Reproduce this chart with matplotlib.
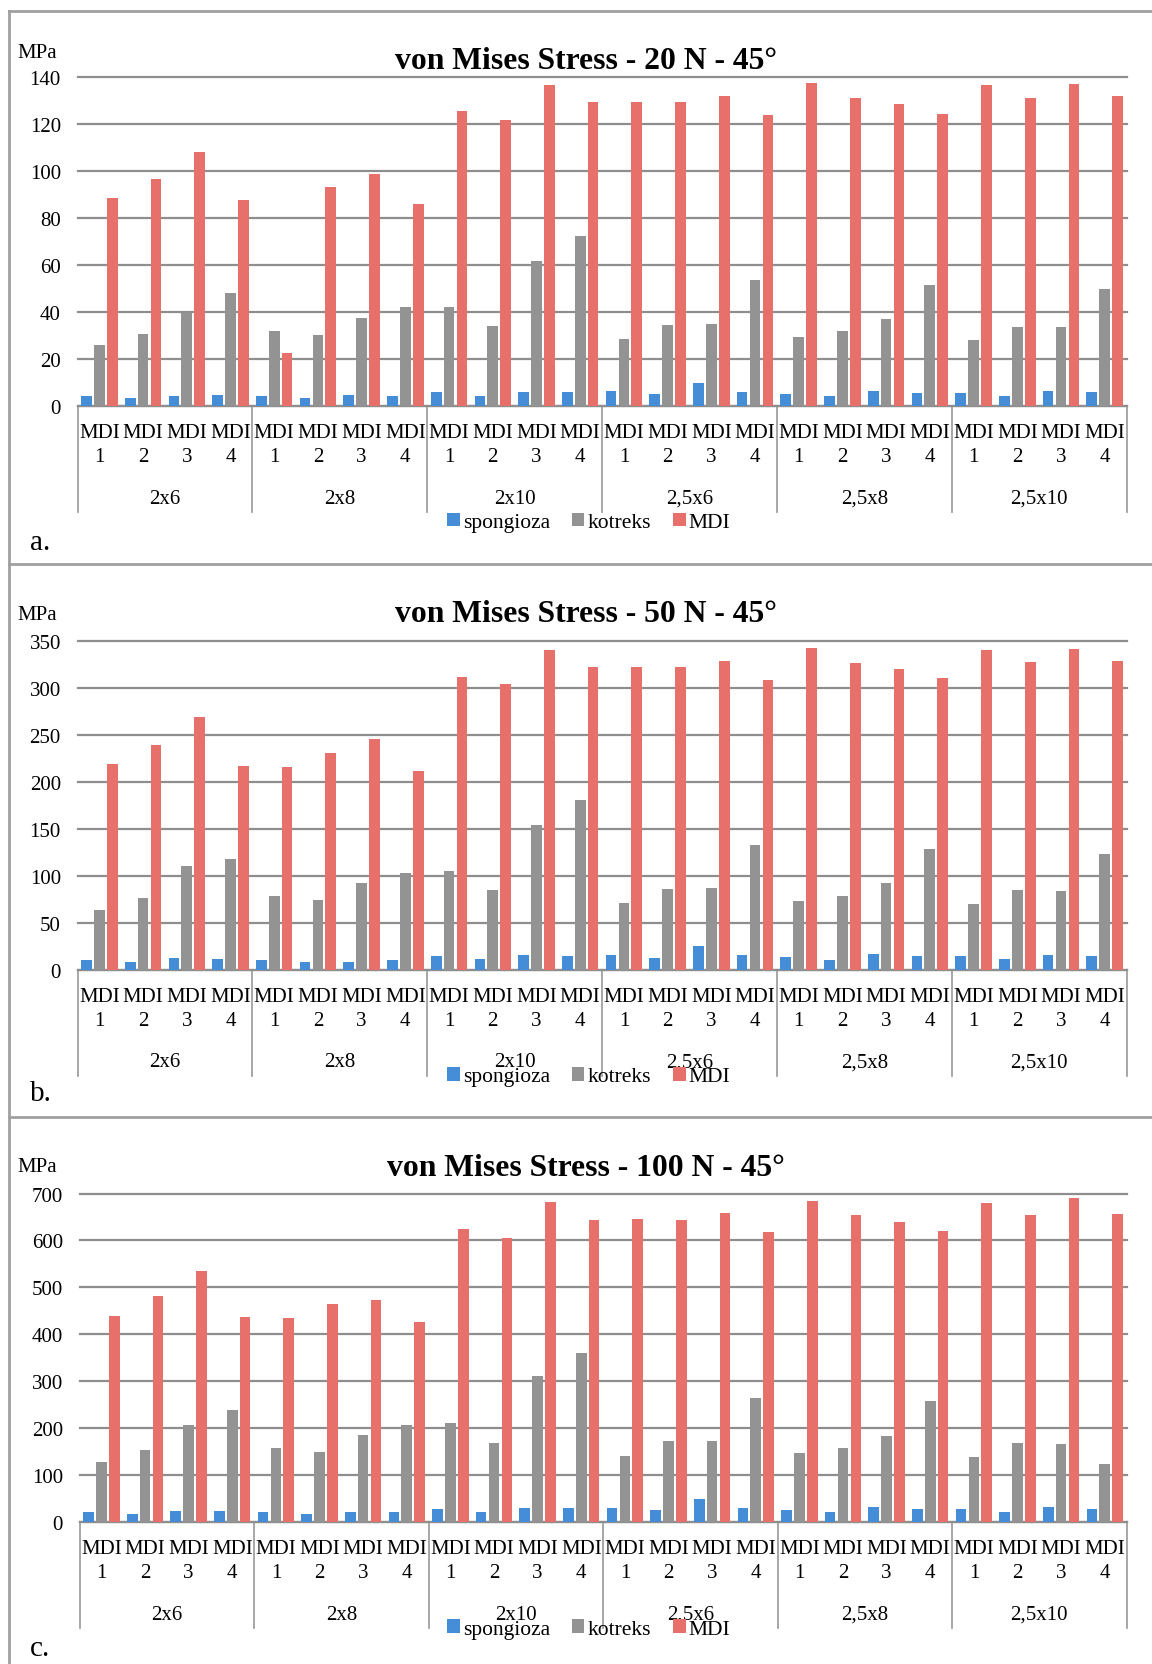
import matplotlib
matplotlib.use("Agg")
import matplotlib.pyplot as plt
import numpy as np
from matplotlib.patches import Patch
from matplotlib.lines import Line2D

plt.rcParams['font.family'] = ['Liberation Serif', 'DejaVu Serif']

W, H = 1152, 1665

groups = ["2x6", "2x8", "2x10", "2,5x6", "2,5x8", "2,5x10"]
implants = ["MDI", "MDI", "MDI", "MDI"]
implant_nums = ["1", "2", "3", "4"]
series_names = ["spongioza", "kotreks", "MDI"]
colors = ["#468DD7", "#939393", "#E7706A"]

# 20 N
spong_20 = [4.2, 3.4, 4.2, 4.7, 4.2, 3.4, 4.7, 4.2, 5.9, 4.2, 5.9, 5.9,
            6.4, 5.1, 9.8, 5.9, 5.1, 4.2, 6.4, 5.5, 5.5, 4.2, 6.4, 5.9]
kotreks_20 = [25.7, 30.7, 39.3, 47.8, 31.7, 30.1, 37.5, 41.9, 42.0, 33.9, 61.7, 72.3,
              28.3, 34.5, 34.8, 53.3, 29.3, 31.7, 36.8, 51.3, 27.9, 33.7, 33.4, 49.5]
mdi_20 = [88.5, 96.6, 107.8, 87.7, 22.3, 93.2, 98.7, 85.6, 125.2, 121.4, 136.4, 129.0,
          129.3, 129.0, 131.8, 123.6, 137.2, 130.8, 128.3, 124.2, 136.5, 131.0, 136.9, 131.8]

# 50 N
spong_50 = [10.0, 7.8, 12.1, 11.0, 10.0, 7.8, 7.8, 10.0, 14.3, 11.0, 15.3, 14.3,
            15.3, 12.1, 24.9, 15.3, 13.2, 10.0, 16.4, 14.3, 14.3, 11.0, 15.3, 14.3]
kotreks_50 = [63.4, 75.9, 110.8, 118.3, 78.8, 73.8, 92.3, 102.6, 105.5, 84.8, 154.0, 180.7,
              70.6, 85.5, 87.0, 132.6, 73.1, 78.8, 91.9, 128.7, 69.9, 84.5, 83.4, 123.3]
mdi_50 = [219.2, 239.5, 269.1, 217.0, 215.6, 230.6, 246.3, 212.0, 312.5, 304.0, 341.1, 322.5,
          322.9, 322.5, 329.3, 309.0, 342.8, 327.2, 320.4, 310.8, 341.1, 327.9, 342.1, 329.3]

# 100 N
spong_100 = [20.6, 16.4, 22.8, 22.8, 20.6, 16.4, 20.6, 20.6, 27.0, 20.6, 29.2, 29.2,
             29.2, 24.9, 48.4, 29.2, 24.9, 20.6, 31.3, 27.0, 27.0, 20.6, 31.3, 27.0]
kotreks_100 = [127.3, 152.2, 207.0, 237.6, 157.9, 147.9, 184.2, 205.5, 209.8, 168.6, 310.8, 359.9,
               140.1, 171.4, 172.8, 264.6, 145.8, 157.2, 182.8, 256.8, 138.7, 167.9, 165.0, 122.3]
mdi_100 = [438.8, 481.5, 534.9, 436.7, 433.9, 463.7, 472.3, 425.3, 625.2, 606.0, 681.4, 644.4,
           645.8, 644.4, 657.9, 617.4, 684.9, 654.3, 640.1, 619.5, 680.7, 654.3, 690.6, 657.2]


def draw_panel(fig, rect, series, ymax, step, title, letter, title_y, mpa_y, letter_y, legend_y):
    ax = fig.add_axes(rect)
    n = len(series[0])
    x = np.arange(n)
    offsets = [-0.295, 0, 0.295]
    for vals, off, c in zip(series, offsets, colors):
        ax.bar(x + off, vals, width=0.245, color=c, zorder=3)

    ax.set_xlim(-0.5, n - 0.5)
    ax.set_ylim(0, ymax)
    ax.set_yticks(np.arange(0, ymax + 1, step))
    ax.yaxis.grid(True, color="#8E8E8E", lw=1.6)
    for gl in ax.get_ygridlines():
        gl.set_clip_on(False)
    ax.set_axisbelow(True)
    for s in ["top", "right", "left"]:
        ax.spines[s].set_visible(False)
    ax.spines["bottom"].set_color("#8E8E8E")
    ax.spines["bottom"].set_linewidth(1.6)
    ax.set_xticks([])
    ax.tick_params(axis="y", length=0, pad=12, labelsize=15)

    ax_h = rect[3] * H
    # category labels (two levels)
    for i in range(n):
        ax.annotate(implants[i % 4], xy=(i, 0), xycoords=("data", "axes fraction"),
                    xytext=(0, -26.5), textcoords="offset pixels",
                    ha="center", va="center", fontsize=15, annotation_clip=False)
        ax.annotate(implant_nums[i % 4], xy=(i, 0), xycoords=("data", "axes fraction"),
                    xytext=(0, -51), textcoords="offset pixels",
                    ha="center", va="center", fontsize=15, annotation_clip=False)
    for g, name in enumerate(groups):
        ax.annotate(name, xy=(g * 4 + 1.5, 0), xycoords=("data", "axes fraction"),
                    xytext=(0, -92.4), textcoords="offset pixels",
                    ha="center", va="center", fontsize=15, annotation_clip=False)
    for b in np.arange(-0.5, n, 4):
        ax.plot([b, b], [0, -106 / ax_h], transform=ax.get_xaxis_transform(),
                color="#A0A0A0", lw=1.3, clip_on=False)

    fig.text(0.5087, title_y, title, ha="center", va="center", fontsize=22.8, fontweight="bold")
    fig.text(17 / W, mpa_y, "MPa", ha="left", va="center", fontsize=15)
    fig.text(30 / W, letter_y, letter, ha="left", va="center", fontsize=21)

    handles = [Patch(facecolor=c) for c in colors]
    fig.legend(handles, series_names, loc="center", bbox_to_anchor=(0.511, legend_y),
               bbox_transform=fig.transFigure, ncol=3, frameon=False, fontsize=15.5,
               handlelength=0.6, handleheight=0.6, handletextpad=0.15, columnspacing=1.0,
               borderpad=0, borderaxespad=0)
    return ax


fig = plt.figure(figsize=(W / 100, H / 100), dpi=100)

draw_panel(fig, [0.0673, 0.7557, 0.9106, 0.1977], [spong_20, kotreks_20, mdi_20], 140, 20,
           "von Mises Stress - 20 N - 45°", "a.", 1 - 61.5 / H, 1 - 53 / H, 1 - 543 / H, 0.6856)
draw_panel(fig, [0.0673, 0.4171, 0.9106, 0.1971], [spong_50, kotreks_50, mdi_50], 350, 50,
           "von Mises Stress - 50 N - 45°", "b.", 1 - 615 / H, 1 - 616 / H, 1 - 1094 / H, 0.3527)
draw_panel(fig, [0.0691, 0.0855, 0.9088, 0.1970], [spong_100, kotreks_100, mdi_100], 700, 100,
           "von Mises Stress - 100 N - 45°", "c.", 1 - 1168.5 / H, 1 - 1168 / H, 1 - 1649 / H, 0.02105)

# outer frame and panel dividers
frame = dict(color="#A0A0A0", lw=2, transform=fig.transFigure)
fig.add_artist(Line2D([9 / W, 1], [1 - 11.7 / H, 1 - 11.7 / H], **frame))
fig.add_artist(Line2D([9 / W, 9 / W], [0, 1 - 11.7 / H], **frame))
fig.add_artist(Line2D([9 / W, 1], [1 - 565 / H, 1 - 565 / H], **frame))
fig.add_artist(Line2D([9 / W, 1], [1 - 1118 / H, 1 - 1118 / H], **frame))

fig.savefig("out.png", dpi=100)
